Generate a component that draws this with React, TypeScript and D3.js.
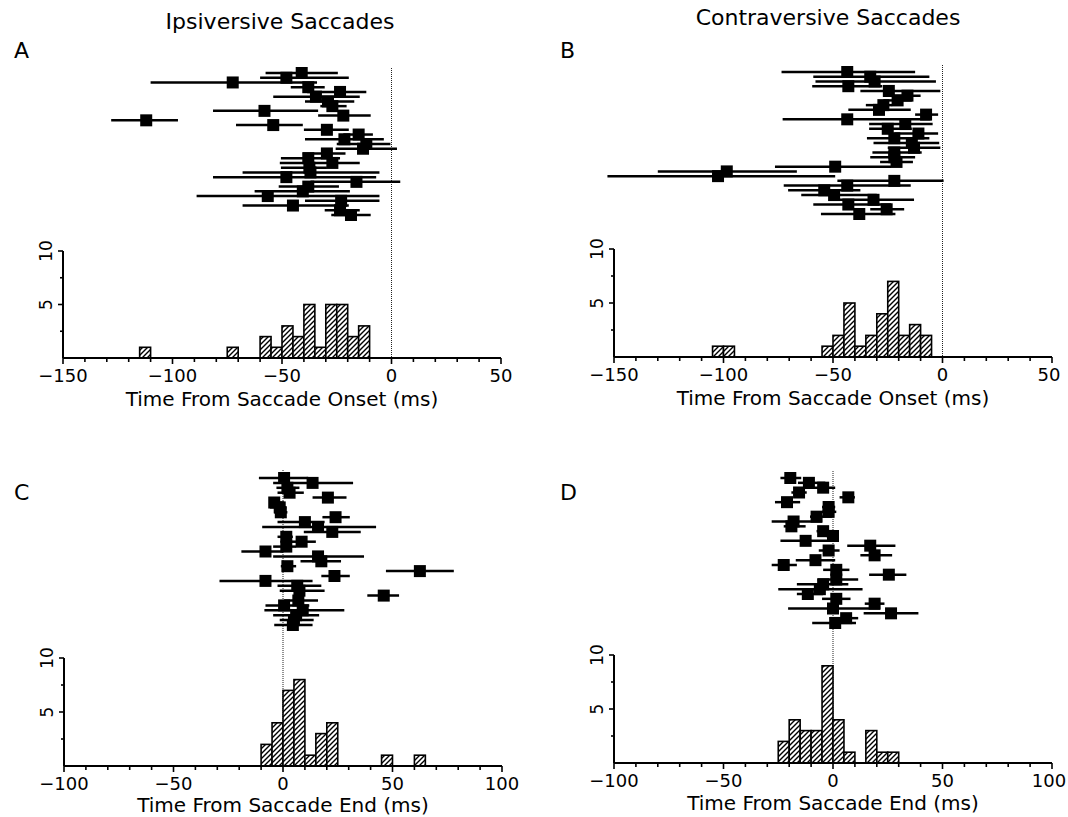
import React from "react";
import * as d3 from "d3";

// tick labels
const onsetTicks = [-150, -100, -50, 0, 50];
const endTicks = [-100, -50, 0, 50, 100];
const countTicks = [5, 10];

// A: ipsiversive saccades, time from onset (one row per cell: mean, low, high)
const ipsiOnsetMean = [-41, -48, -72.5, -38, -23.5, -34.5, -29, -27, -58, -22, -112, -54, -29.5, -15, -21.5, -11.5, -13, -29.5, -38, -27, -37.5, -37, -48, -16, -38, -40.5, -56.5, -23, -45, -23.5, -18.5];
const ipsiOnsetLo = [-57.5, -60, -110, -46, -38.5, -54, -39.5, -32.5, -81.5, -33.5, -128, -71, -40, -22, -39.5, -25, -25.5, -40.5, -50.5, -51, -50.5, -68, -81.5, -37, -51.5, -62.5, -89, -39.5, -68, -30.5, -27.5];
const ipsiOnsetHi = [-24.5, -19.5, -34, -30.5, -11.5, -14.5, -17, -20.5, -33.5, -9.5, -97.5, -40.5, -19.5, -8.5, -3.5, -0.5, 2.5, -21, -23.5, -14.5, -29.5, -5.5, -7, 4, -24, -19, -5.5, -5.5, -19.5, -14.5, -9.5];

// B: contraversive saccades, time from onset
const contraOnsetMean = [-43.5, -33, -31, -43, -24.5, -16, -20.5, -27, -29, -7.5, -43.5, -17, -25, -11, -22, -14, -13, -22, -22, -21, -49, -98.5, -102.5, -22, -43.5, -54, -49.5, -31.5, -43, -25.5, -38];
const contraOnsetLo = [-73.5, -59, -58, -59.5, -37.5, -27, -27, -35, -43, -12.5, -73, -33.5, -33.5, -22, -34.5, -31.5, -25, -32, -33, -28.5, -76.5, -130, -156, -48, -72.5, -70.5, -64.5, -47.5, -59, -33, -55.5];
const contraOnsetHi = [-12.5, -6, -3, -27.5, -1, -10, -14, -23, -14.5, -2, -5.5, -4.5, -14, -2, -6, -1.5, -1, -9.5, -12.5, -13.5, -23.5, -66.5, -49, 0.5, -14.5, -37.5, -30, -13, -23.5, -17.5, -21.5];

// C: ipsiversive saccades, time from end
const ipsiEndMean = [0.5, 13.5, 2, 3, 20.5, -4, -1.5, -1, 24, 10, 16, 22.5, 1.5, 8.5, 1.5, -8, 16, 17.5, 2, 62.5, 23.5, -8, 6.5, 7.5, 46, 7, 0.5, 9, 6, 5, 4.5];
const ipsiEndLo = [-11, -4.5, -3, -2.5, 13.5, -6, -6, -4, 18, -2.5, -9.5, 9.5, -2.5, 2, -4.5, -19, -4.5, 8, -1, 47, 17.5, -29, -2.5, -1.5, 38.5, 0.5, -8, -8.5, -4.5, -1.5, -4];
const ipsiEndHi = [11.5, 32, 7.5, 9.5, 29, 0.5, 1.5, 2, 30.5, 19, 42.5, 35.5, 4.5, 15, 6, 0, 37, 26.5, 6, 78, 30.5, 13.5, 17.5, 19, 53, 16, 12, 28, 16.5, 14, 13.5];

// D: contraversive saccades, time from end
const contraEndMean = [-19.5, -11, -4.5, -15.5, 7, -21, -2, -2, -7.5, -18, -19, -4.5, 0, -12.5, 17, -2, 19, -8, -22.5, 1.5, 25.5, 1.5, -4.5, -6, -11.5, 1.5, 19, 0, 26.5, 6, 1];
const contraEndLo = [-24, -16, -13.5, -19, 3, -26.5, -5, -5, -10.5, -28, -22.5, -7.5, -3, -24, 6.5, -6.5, 12.5, -17, -28, -4.5, 16.5, -7, -16.5, -25, -16.5, -5, 14.5, -20.5, 14, -1.5, -9.5];
const contraEndHi = [-14.5, -3.5, 1, -12, 10, -15, 1, 1.5, -0.5, -5, -12.5, 0, 2.5, 1.5, 28.5, 3, 27, 1, -16.5, 7.5, 33.5, 11.5, 7, 13.5, -4.5, 8, 23.5, 21.5, 39, 11.5, 10.5];

// histograms: left edge of each 5 ms bin and count of cells
const ipsiOnsetBins = [-115, -75, -60, -55, -50, -45, -40, -35, -30, -25, -20, -15];
const ipsiOnsetCounts = [1, 1, 2, 1, 3, 2, 5, 1, 5, 5, 2, 3];
const contraOnsetBins = [-105, -100, -55, -50, -45, -40, -35, -30, -25, -20, -15, -10];
const contraOnsetCounts = [1, 1, 1, 2, 5, 1, 2, 4, 7, 2, 3, 2];
const ipsiEndBins = [-10, -5, 0, 5, 10, 15, 20, 45, 60];
const ipsiEndCounts = [2, 4, 7, 8, 1, 3, 4, 1, 1];
const contraEndBins = [-25, -20, -15, -10, -5, 0, 5, 15, 20, 25];
const contraEndCounts = [2, 4, 3, 3, 9, 4, 1, 3, 1, 1];

const FONT = "DejaVu Sans, sans-serif";

function Panel({ mean, lo, hi, bins, counts, ticks, x0, x1, rowTop, rowBottom, zeroTop, histTop, histBase, title, titleGap }) {
  const x = d3.scaleLinear().domain([ticks[0], ticks[ticks.length - 1]]).range([x0, x1]);
  const y = d3.scaleLinear().domain([0, 10]).range([histBase, histTop]);
  const row = d3.scalePoint<number>().domain(d3.range(mean.length)).range([rowTop, rowBottom]);
  const minor = d3.range(ticks[0], ticks[ticks.length - 1] + 1, 10);
  const sq = 12;

  return (
    <g>
      {/* zero line */}
      <line x1={x(0)} x2={x(0)} y1={zeroTop} y2={histBase} stroke="#222" strokeWidth={1} strokeDasharray="1,1" />

      {/* raster of cells */}
      {mean.map((m, i) => (
        <g key={i}>
          <line x1={x(Math.max(lo[i], ticks[0] - 3))} x2={x(hi[i])} y1={row(i)} y2={row(i)} stroke="#000" strokeWidth={2.5} />
          <rect x={x(m) - sq / 2} y={row(i)! - sq / 2} width={sq} height={sq} fill="#000" />
        </g>
      ))}

      {/* histogram */}
      {bins.map((b, i) => (
        <rect
          key={`bar-${b}`}
          x={x(b)}
          y={y(counts[i])}
          width={x(b + 5) - x(b)}
          height={histBase - y(counts[i])}
          fill="url(#hatch)"
          stroke="#000"
          strokeWidth={1.6}
        />
      ))}

      {/* axes */}
      <line x1={x0} x2={x1} y1={histBase} y2={histBase} stroke="#000" strokeWidth={2} />
      <line x1={x0} x2={x0} y1={histTop} y2={histBase} stroke="#000" strokeWidth={2} />
      {minor.map((t) => (
        <line key={`t${t}`} x1={x(t)} x2={x(t)} y1={histBase} y2={histBase + (t % 50 === 0 ? 6 : 4)} stroke="#000" strokeWidth={1.6} />
      ))}
      {[2.5, 5, 7.5, 10].map((t) => (
        <line key={`y${t}`} x1={x0} x2={x0 - (t % 5 === 0 ? 5 : 3)} y1={y(t)} y2={y(t)} stroke="#000" strokeWidth={1.6} />
      ))}
      {ticks.map((t) => (
        <text key={`l${t}`} x={Math.min(x(t), 1049)} y={histBase + 24} textAnchor="middle" fontFamily={FONT} fontSize={18}>
          {d3.format("")(t)}
        </text>
      ))}
      {countTicks.map((t) => (
        <text key={`c${t}`} transform={`translate(${x0 - 11},${y(t)}) rotate(-90)`} textAnchor="middle" fontFamily={FONT} fontSize={17}>
          {t}
        </text>
      ))}
      <text x={(x0 + x1) / 2} y={histBase + titleGap} textAnchor="middle" fontFamily={FONT} fontSize={20}>
        {title}
      </text>
    </g>
  );
}

export default function App() {
  return (
    <svg width={1068} height={817} style={{ position: "absolute", left: 0, top: 0, background: "#fff" }}>
      <defs>
        <pattern id="hatch" patternUnits="userSpaceOnUse" width={5} height={5}>
          <rect width={5} height={5} fill="#fff" />
          <path d="M0,5 L5,0 M-1,1 L1,-1 M4,6 L6,4" stroke="#000" strokeWidth={1.4} />
        </pattern>
      </defs>

      <text x={280} y={29} textAnchor="middle" fontFamily={FONT} fontSize={22}>Ipsiversive Saccades</text>
      <text x={828} y={25} textAnchor="middle" fontFamily={FONT} fontSize={22}>Contraversive Saccades</text>
      <text x={14} y={58} fontFamily={FONT} fontSize={22}>A</text>
      <text x={560} y={58} fontFamily={FONT} fontSize={22}>B</text>
      <text x={14} y={500} fontFamily={FONT} fontSize={22}>C</text>
      <text x={560} y={500} fontFamily={FONT} fontSize={22}>D</text>

      <Panel mean={ipsiOnsetMean} lo={ipsiOnsetLo} hi={ipsiOnsetHi} bins={ipsiOnsetBins} counts={ipsiOnsetCounts}
        ticks={onsetTicks} x0={63} x1={501} rowTop={73} rowBottom={215} zeroTop={68} histTop={251} histBase={358}
        title="Time From Saccade Onset (ms)" titleGap={48} />
      <Panel mean={contraOnsetMean} lo={contraOnsetLo} hi={contraOnsetHi} bins={contraOnsetBins} counts={contraOnsetCounts}
        ticks={onsetTicks} x0={614} x1={1052} rowTop={72} rowBottom={214} zeroTop={65} histTop={249} histBase={357}
        title="Time From Saccade Onset (ms)" titleGap={48} />
      <Panel mean={ipsiEndMean} lo={ipsiEndLo} hi={ipsiEndHi} bins={ipsiEndBins} counts={ipsiEndCounts}
        ticks={endTicks} x0={64} x1={502} rowTop={478} rowBottom={625} zeroTop={470} histTop={658} histBase={766}
        title="Time From Saccade End (ms)" titleGap={46} />
      <Panel mean={contraEndMean} lo={contraEndLo} hi={contraEndHi} bins={contraEndBins} counts={contraEndCounts}
        ticks={endTicks} x0={614} x1={1052} rowTop={478} rowBottom={623} zeroTop={471} histTop={655} histBase={763}
        title="Time From Saccade End (ms)" titleGap={47} />
    </svg>
  );
}
